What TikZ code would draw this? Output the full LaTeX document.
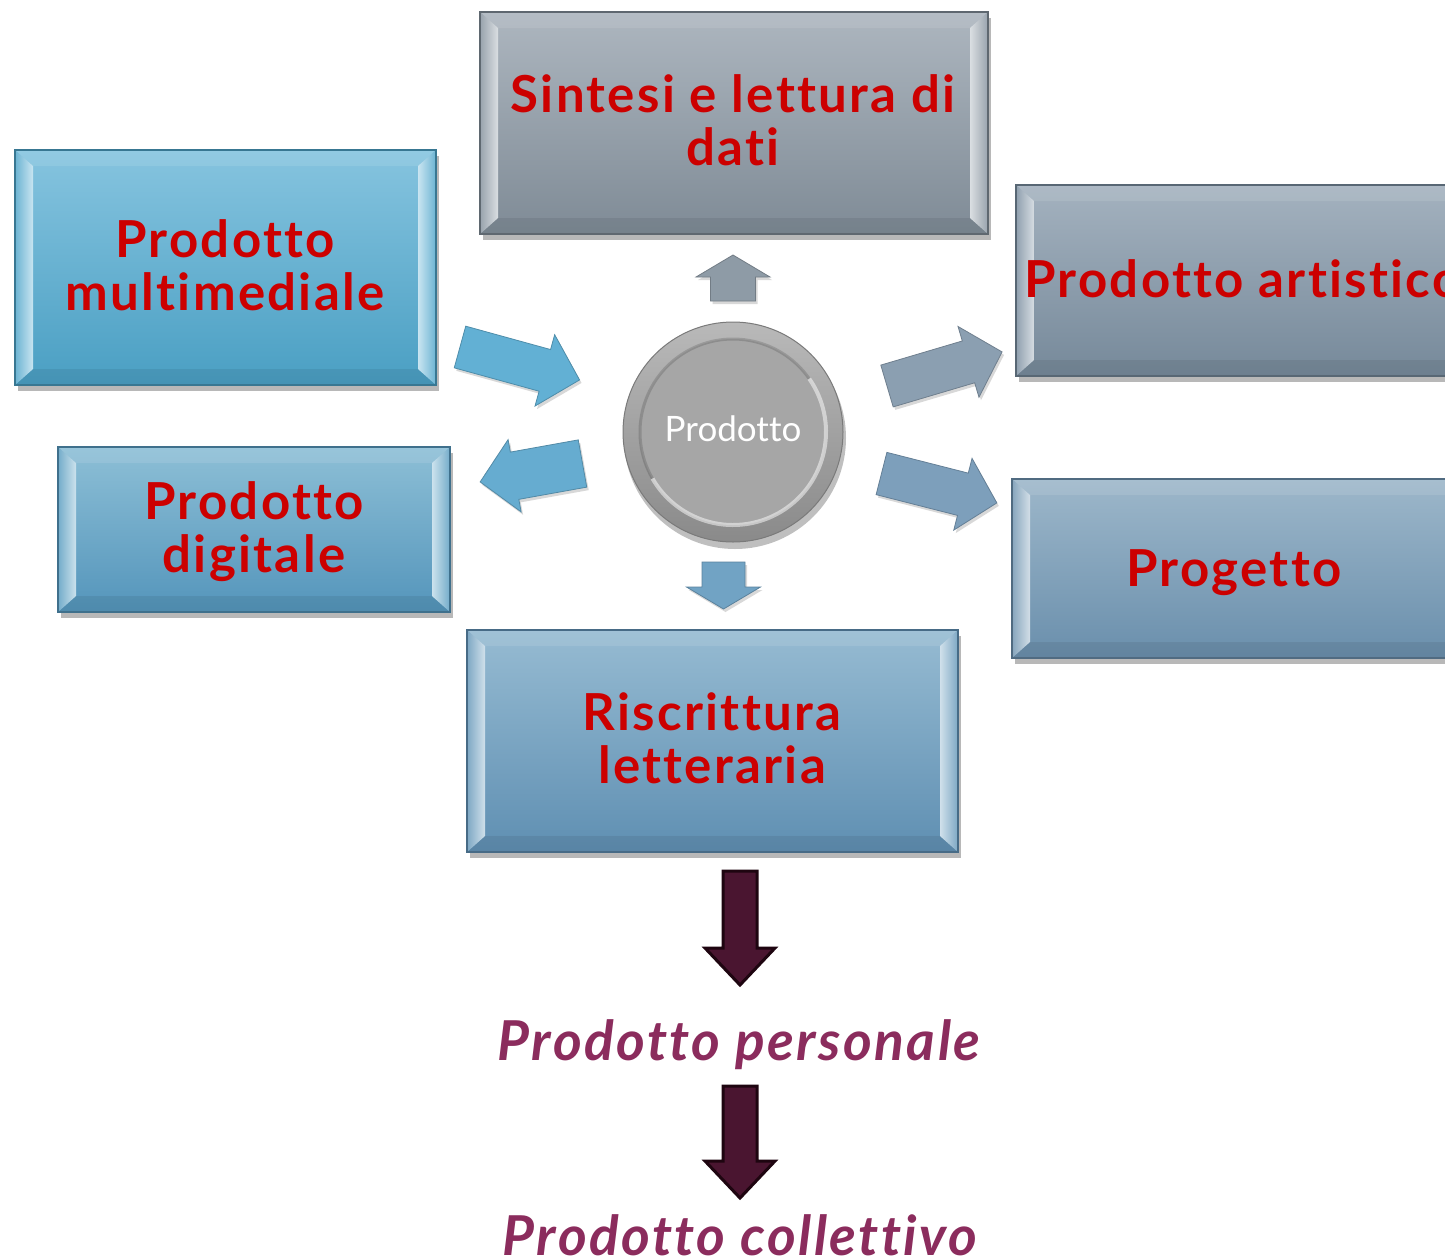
\documentclass[tikz,border=0pt]{standalone}
\usepackage{fontspec}
\setmainfont{Lato}[Ligatures={NoCommon},LetterSpace=4.5]
\newfontfamily\circfont{Lato}[Ligatures={NoCommon}]
\usetikzlibrary{shadows,calc}
\definecolor{txtred}{HTML}{CC0000}
\definecolor{plum}{HTML}{8B2C5D}
\definecolor{maroon}{HTML}{4A1530}
\definecolor{maroonedge}{HTML}{1E0510}
\definecolor{ringtop}{HTML}{B9B9B9}
\definecolor{ringbot}{HTML}{8A8A8A}
\definecolor{ringedge}{HTML}{7A7A7A}
\definecolor{discfill}{HTML}{A6A6A6}
\definecolor{arA}{HTML}{62B0D4}
\definecolor{arB}{HTML}{66ACD0}
\definecolor{arC}{HTML}{8B9FB1}
\definecolor{arD}{HTML}{7D9FBB}
\definecolor{arE}{HTML}{8E9BA6}
\definecolor{arF}{HTML}{71A3C4}
\newcommand\bevelbox[7]{%
  % #1 name, #2 x1, #3 y1, #4 x2, #5 y2, #6 top colour, #7 bottom colour (HTML)
  \definecolor{#1T}{HTML}{#6}\definecolor{#1B}{HTML}{#7}%
  \fill[black,opacity=0.28] (#2+3,#3+6) rectangle (#4+3,#5+6);
  \shade[top color=#1T,bottom color=#1B] (#2,#3) rectangle (#4,#5);
  \fill[white,opacity=0.10] (#2,#3) -- (#4,#3) -- (#4-18,#3+16) -- (#2+18,#3+16) -- cycle;
  \fill[black,opacity=0.07] (#2,#5) -- (#4,#5) -- (#4-18,#5-16) -- (#2+18,#5-16) -- cycle;
  \shade[left color=#1T!55!#1B,right color=white!55!#1T] (#2,#3) -- (#2+18,#3+16) -- (#2+18,#5-16) -- (#2,#5) -- cycle;
  \shade[right color=#1T!55!#1B,left color=white!55!#1T] (#4,#3) -- (#4-18,#3+16) -- (#4-18,#5-16) -- (#4,#5) -- cycle;
  \draw[#1B!75!black,line width=1.2] (#2,#3) rectangle (#4,#5);
  \coordinate (#1) at ($(#2,#3)!0.5!(#4,#5)$);
}
\newcommand\blockarrow[9]{%
  % #1 name, #2 style, #3 tail x, #4 tail y, #5 angle, #6 length, #7 shaft half, #8 head half, #9 head length
  \coordinate (#1) at (#3,#4);
  \path[#2,shift={(#3,#4)},rotate=#5] (0,-#7) -- (#6-#9,-#7) -- (#6-#9,-#8) -- (#6,0)
     -- (#6-#9,#8) -- (#6-#9,#7) -- (0,#7) -- cycle;
}
\tikzset{
  boxtext/.style={font=\fontsize{51}{53}\selectfont\bfseries,text=txtred,align=center,inner sep=0pt},
  plumtext/.style={font=\fontsize{55}{60}\selectfont\bfseries\itshape,text=plum,inner sep=0pt,anchor=base},
  lightarrow/.style={fill=#1,draw=#1!80!black,line width=0.8,
    drop shadow={shadow xshift=2pt,shadow yshift=-3pt,opacity=0.3}},
  darkarrow/.style={fill=maroon,draw=maroonedge,line width=3,line join=miter}
}
\begin{document}
\begin{tikzpicture}[x=1pt,y=-1pt]
\useasboundingbox (0,0) rectangle (1445,1259);
\fill[white] (0,0) rectangle (1445,1259);

% boxes
\bevelbox{sintesi}{480}{12}{988}{234}{ADB6BF}{7F8B96}
\bevelbox{multi}{15}{150}{436}{385}{86C4DF}{4A9FC3}
\bevelbox{artis}{1016}{185}{1500}{376}{A4B2BF}{76899A}
\bevelbox{digit}{58}{447}{450}{612}{8DBFD6}{5495BB}
\bevelbox{proget}{1012}{479}{1500}{658}{9DB7CA}{6A8FAC}
\bevelbox{riscr}{467}{630}{958}{852}{96BBD2}{5F8FB2}

\node[boxtext] (tsintesi) at (733,120) {Sintesi e lettura di\\dati};
\node[boxtext] (tmulti) at (225,265) {Prodotto\\multimediale};
\node[boxtext,anchor=west] (tartis) at (1024,279) {Prodotto artistico};
\node[boxtext] (tdigit) at (254,532) {Prodotto\\digitale};
\node[boxtext] (tproget) at (1234,573) {Progetto};
\node[boxtext] (triscr) at (712,738) {Riscrittura\\letteraria};

% central circle
\fill[black,opacity=0.25] (735,438) circle (111);
\shade[top color=ringtop,bottom color=ringbot,draw=ringedge,line width=1] (733,432) circle (110);
\fill[discfill] (733,432) circle (93);
\draw[white,opacity=0.5,line width=4] (733,432) ++(-35:93) arc[start angle=-35,end angle=150,radius=93];
\draw[black,opacity=0.15,line width=3] (733,432) ++(150:93) arc[start angle=150,end angle=325,radius=93];
\node[font=\circfont\fontsize{35}{40}\selectfont,text=white,inner sep=0pt] (centre) at (733,429) {Prodotto};

% light block arrows
\blockarrow{a1}{lightarrow=arA}{460}{347}{-15.4}{124}{21.6}{37}{36}
\blockarrow{a2}{lightarrow=arB}{582.5}{463.5}{190.2}{104}{24}{36.7}{35}
\blockarrow{a3}{lightarrow=arC}{887}{386}{16.5}{120}{21.8}{36.9}{35}
\blockarrow{a4}{lightarrow=arD}{881.5}{473.5}{-14.3}{119}{21.8}{37}{35}
\blockarrow{a5}{lightarrow=arE}{733}{301}{90}{46}{22.5}{37}{22}
\blockarrow{a6}{lightarrow=arF}{723.5}{562}{-90}{47}{21.5}{37}{22}

% dark arrows and final texts
\blockarrow{d1}{darkarrow}{740}{871}{-90}{114}{17}{35}{37}
\node[plumtext] (personale) at (739,1060) {Prodotto personale};
\blockarrow{d2}{darkarrow}{740}{1086}{-90}{112}{17}{35}{37}
\node[plumtext] (collettivo) at (740,1255) {Prodotto collettivo};
\end{tikzpicture}
\end{document}
